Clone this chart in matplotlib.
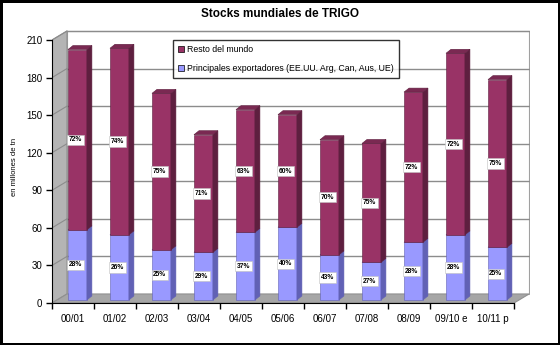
import numpy as np
import matplotlib.pyplot as plt
from matplotlib.patches import Polygon, Patch

plt.rcParams['font.family'] = ['Liberation Sans', 'DejaVu Sans']

campaigns = ["00/01", "01/02", "02/03", "03/04", "04/05", "05/06",
             "06/07", "07/08", "08/09", "09/10 e", "10/11 p"]
total = np.array([200, 201, 165, 132, 152, 148, 128, 125, 166, 197, 176])
exporters = np.array([56, 52, 40, 38, 54, 58, 36, 30, 46, 52, 42])
pct_rest = ["72%", "74%", "75%", "71%", "63%", "60%", "70%", "75%", "72%", "72%", "75%"]
pct_exp = ["28%", "26%", "25%", "29%", "37%", "40%", "43%", "27%", "28%", "28%", "25%"]
yticks = [0, 30, 60, 90, 120, 150, 180, 210]

rest = total - exporters

# colours: front, side, top
red = ("#993366", "#5e1f3f", "#7a2952")
blue = ("#9999ff", "#6161b5", "#8080e0")

fig = plt.figure(figsize=(5.6, 3.45), dpi=100)
fig.patch.set_edgecolor("black")
fig.patch.set_linewidth(2.5)
ax = fig.add_axes([52/560, 42/345, 478/560, 273/345])
ax.set_xlim(0, 11.38)
ax.set_ylim(0, 218)

# 3d box: back wall offset
ox, oy = 0.357, 7.2
n = len(campaigns)
ax.add_patch(Polygon([(0, 0), (ox, oy), (ox, 210 + oy), (0, 210)],
                     closed=True, fc="#b4b4b4", ec="#909090", lw=0.8, zorder=1))
ax.add_patch(Polygon([(0, 0), (n, 0), (n + ox, oy), (ox, oy)],
                     closed=True, fc="#a6a6a6", ec="#909090", lw=0.8, zorder=1))
ax.add_patch(Polygon([(ox, oy), (n + ox, oy), (n + ox, 210 + oy), (ox, 210 + oy)],
                     closed=True, fc="white", ec="#a0a0a0", lw=0.8, zorder=0.5))
for v in yticks[1:]:
    ax.plot([ox, n + ox], [v + oy, v + oy], color="#8c8c8c", lw=1, zorder=1)
    ax.plot([0, ox], [v, v + oy], color="#8c8c8c", lw=0.8, zorder=1)

# bars
fx, fy = 0.12, 2.4
w = 0.45
dx, dy = 0.12, 3.2


def box(x0, y0, h, cols):
    x1 = x0 + w
    y1 = y0 + h
    ax.add_patch(Polygon([(x0, y0), (x1, y0), (x1, y1), (x0, y1)], closed=True,
                         fc=cols[0], ec=cols[1], lw=0.4, zorder=3))
    ax.add_patch(Polygon([(x1, y0), (x1 + dx, y0 + dy), (x1 + dx, y1 + dy), (x1, y1)],
                         closed=True, fc=cols[1], ec=cols[1], lw=0.4, zorder=3))
    ax.add_patch(Polygon([(x0, y1), (x1, y1), (x1 + dx, y1 + dy), (x0 + dx, y1 + dy)],
                         closed=True, fc=cols[2], ec=cols[1], lw=0.4, zorder=3))


label_box = dict(boxstyle="square,pad=0.25", fc="white", ec="#c0c0c0", lw=0.4)
for i in range(n):
    x0 = i + 0.26 + fx
    box(x0, fy, exporters[i], blue)
    box(x0, fy + exporters[i], rest[i], red)
    ax.text(x0 + w / 2 - 0.04, fy + exporters[i] / 2, pct_exp[i], ha="center",
            va="center", fontsize=4.8, fontweight="bold", bbox=label_box, zorder=5)
    ax.text(x0 + w / 2 - 0.04, fy + exporters[i] + rest[i] / 2, pct_rest[i],
            ha="center", va="center", fontsize=4.8, fontweight="bold",
            bbox=label_box, zorder=5)

# axes
for s in ["top", "right"]:
    ax.spines[s].set_visible(False)
ax.spines["left"].set_bounds(0, 210)
ax.spines["bottom"].set_bounds(0, n)
ax.spines["left"].set_zorder(6)
ax.spines["bottom"].set_zorder(6)
ax.set_yticks(yticks)
ax.tick_params(axis="y", length=4, width=1, labelsize=7, pad=3)
ax.set_xticks(np.arange(n + 1))
ax.set_xticklabels([])
ax.tick_params(axis="x", which="major", length=4, width=1)
ax.set_xticks(np.arange(n) + 0.5, minor=True)
ax.set_xticklabels(campaigns, minor=True, fontsize=7)
ax.tick_params(axis="x", which="minor", length=0, pad=8)
ax.set_ylabel("en millones de tn", fontsize=5.5, labelpad=6)

# legend
handles = [Patch(fc=red[0], ec="black", lw=0.5),
           Patch(fc=blue[0], ec="black", lw=0.5)]
leg = fig.legend(handles, ["Resto del mundo",
                           "Principales exportadores (EE.UU. Arg, Can, Aus, UE)"],
                 loc="upper left", bbox_to_anchor=(173/560, 1 - 40/345),
                 fontsize=6.3, frameon=True, fancybox=False, edgecolor="black",
                 handlelength=0.7, handleheight=0.7, handletextpad=0.3,
                 labelspacing=1.1, borderpad=0.6, borderaxespad=0)
leg.get_frame().set_linewidth(1)
leg.set_zorder(10)

fig.text(0.5, 1 - 14/345, "Stocks mundiales de TRIGO", ha="center", va="center",
         fontsize=8.5, fontweight="bold")

plt.savefig("out.png", dpi=100)
